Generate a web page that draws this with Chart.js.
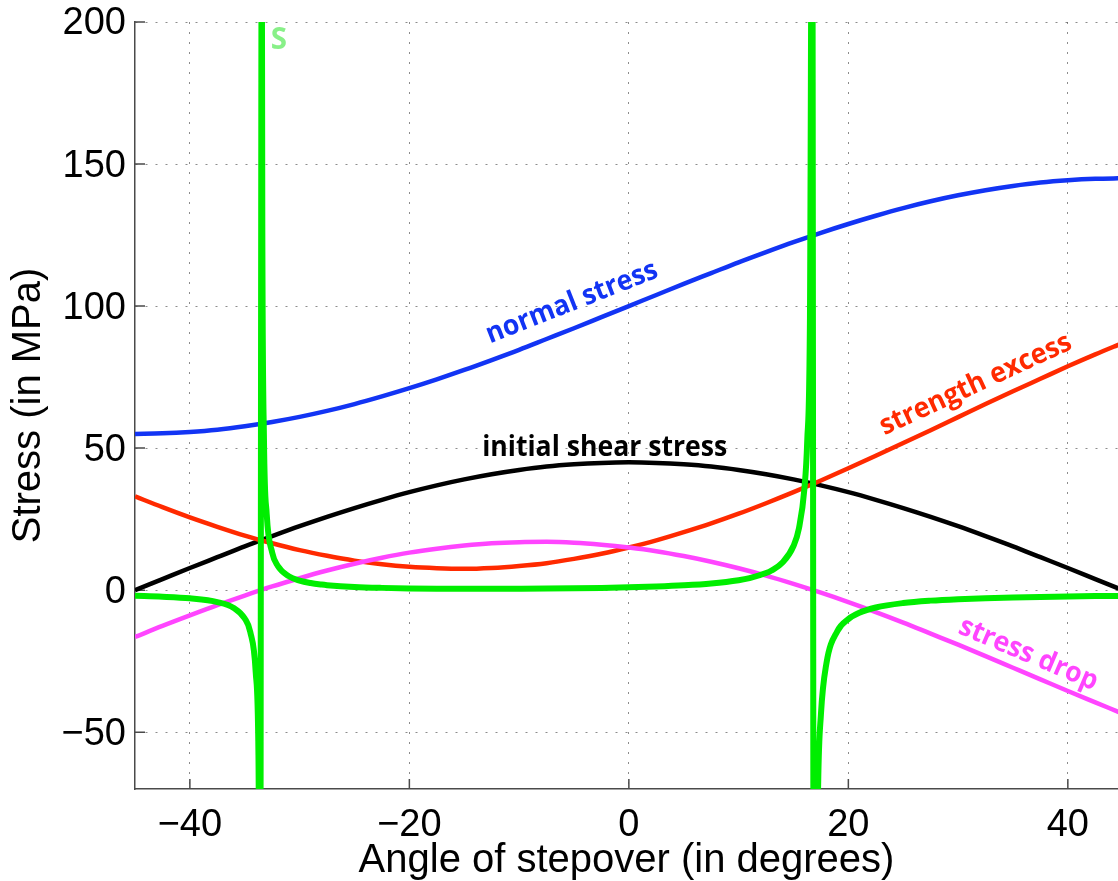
<!DOCTYPE html>
<html>
<head>
<meta charset="utf-8">
<script src="https://cdn.jsdelivr.net/npm/chart.js@4.4.1/dist/chart.umd.min.js"></script>
<style>
  html, body { margin: 0; padding: 0; background: #fff; overflow: hidden; }
  canvas { display: block; }
</style>
</head>
<body>
<canvas id="c" width="1118" height="881"></canvas>
<script>
// Stepover angle (degrees) for the smooth stress curves
const angles = [-45, -42.5, -40, -37.5, -35, -32.5, -30, -27.5, -25, -22.5, -20, -17.5, -15, -12.5, -10, -7.5, -5, -2.5,
  0, 2.5, 5, 7.5, 10, 12.5, 15, 17.5, 20, 22.5, 25, 27.5, 30, 32.5, 35, 37.5, 40, 42.5, 45];

// Stresses in MPa
const normalStress = [55.0, 55.2, 55.7, 56.5, 57.7, 59.2, 61.0, 63.1, 65.5, 68.2, 71.1, 74.2, 77.5, 81.0, 84.6, 88.4, 92.2, 96.1,
  100.0, 103.9, 107.8, 111.6, 115.4, 119.0, 122.5, 125.8, 128.9, 131.8, 134.5, 136.9, 139.0, 140.8, 142.3, 143.5, 144.3, 144.8, 145.0];
const shearStress = [0.0, 3.9, 7.8, 11.6, 15.4, 19.0, 22.5, 25.8, 28.9, 31.8, 34.5, 36.9, 39.0, 40.8, 42.3, 43.5, 44.3, 44.8,
  45.0, 44.8, 44.3, 43.5, 42.3, 40.8, 39.0, 36.9, 34.5, 31.8, 28.9, 25.8, 22.5, 19.0, 15.4, 11.6, 7.8, 3.9, 0.0];
const strengthExcess = [33.0, 29.2, 25.6, 22.3, 19.2, 16.5, 14.1, 12.1, 10.4, 9.1, 8.2, 7.7, 7.5, 7.8, 8.5, 9.5, 11.0, 12.8,
  15.0, 17.5, 20.4, 23.5, 26.9, 30.6, 34.5, 38.6, 42.9, 47.3, 51.8, 56.3, 60.9, 65.5, 70.0, 74.4, 78.8, 83.0, 87.0];
const stressDrop = [-16.5, -12.6, -8.9, -5.3, -1.9, 1.3, 4.2, 6.9, 9.3, 11.4, 13.2, 14.6, 15.7, 16.5, 16.9, 17.0, 16.7, 16.0,
  15.0, 13.7, 12.0, 10.0, 7.7, 5.1, 2.2, -0.9, -4.2, -7.7, -11.4, -15.3, -19.2, -23.2, -27.3, -31.4, -35.5, -39.5, -43.5];

// S ratio, sampled more finely around the two singularities
const sAngles = [-45, -42.5, -40, -37.5, -36, -35, -34.5, -34, -33.75, -33.6, -33.45, -33.4, -33.25, -33, -32.5, -32, -31, -30,
  -29, -28, -27.5, -25, -22.5, -20, -17.5, -15, -12.5, -10, -7.5, -5, -2.5, 0, 2.5, 5, 7.5, 10, 11, 12.5, 13, 14, 15, 15.5,
  16, 16.25, 16.5, 16.7, 16.9, 17, 17.25, 17.5, 18, 19, 20, 21, 22.5, 25, 27.5, 30, 32.5, 35, 37.5, 40, 42.5, 45];
const sRatio = [-2.00, -2.31, -2.88, -4.19, -6.27, -10.0, -14.7, -28.9, -58.1, -151, 240, 129, 53.4, 26.8, 13.2, 8.6, 4.94, 3.37,
  2.50, 1.96, 1.76, 1.12, 0.80, 0.62, 0.52, 0.48, 0.47, 0.50, 0.56, 0.66, 0.80, 1.00, 1.28, 1.70, 2.36, 3.51, 4.26, 6.03, 6.93,
  9.70, 15.55, 21.8, 35.9, 52.3, 95.5, 272, -324, -156, -68.1, -43.8, -25.8, -14.4, -10.2, -7.98, -6.12, -4.54, -3.69, -3.17,
  -2.82, -2.56, -2.37, -2.22, -2.10, -2.00];

// Axis ticks
const xTicks = [-40, -20, 0, 20, 40];
const yTicks = [-50, 0, 50, 100, 150, 200];

const BLUE = '#1234f4';
const RED = '#ff2a00';
const BLACK = '#000000';
const MAGENTA = '#ff45ff';
const GREEN = '#00ee00';
const AXIS = '#4a4a4a';

// Curve labels, anchored in data coordinates
const curveLabels = [
  { text: 'normal stress',        x: -5.2, y: 101.2, angle: -21.5, color: BLUE,    size: 28 },
  { text: 'initial shear stress', x: -2.2, y: 50.2,  angle: 0,     color: BLACK,   size: 28 },
  { text: 'strength excess',      x: 31.6, y: 72.4,  angle: -24.8, color: RED,     size: 28 },
  { text: 'stress drop',          x: 36.4, y: -22.6, angle: 23,    color: MAGENTA, size: 28 },
  { text: 'S',                    x: -31.9, y: 193.5, angle: 0,    color: '#88f088', size: 31 }
];

const fmt = v => (v < 0 ? '\u2212' + Math.abs(v) : String(v));
const pairs = (xs, ys) => xs.map((x, i) => ({ x: x, y: ys[i] }));

// Inward tick marks and the curve labels
const decorations = {
  id: 'decorations',
  beforeDatasetsDraw(chart) {
    const { ctx, chartArea: a, scales: { x, y } } = chart;
    ctx.save();
    ctx.strokeStyle = AXIS;
    ctx.lineWidth = 1.5;
    ctx.beginPath();
    xTicks.forEach(v => {
      const px = x.getPixelForValue(v);
      ctx.moveTo(px, a.bottom);
      ctx.lineTo(px, a.bottom - 10);
    });
    yTicks.forEach(v => {
      const py = y.getPixelForValue(v);
      ctx.moveTo(a.left, py);
      ctx.lineTo(a.left + 10, py);
    });
    ctx.stroke();
    ctx.restore();
  },
  afterDatasetsDraw(chart) {
    const { ctx, scales: { x, y } } = chart;
    ctx.save();
    ctx.textAlign = 'center';
    ctx.textBaseline = 'middle';
    curveLabels.forEach(l => {
      ctx.save();
      ctx.translate(x.getPixelForValue(l.x), y.getPixelForValue(l.y));
      ctx.rotate(l.angle * Math.PI / 180);
      ctx.scale(0.95, 1);
      ctx.font = 'bold ' + l.size + 'px "Open Sans"';
      ctx.fillStyle = l.color;
      ctx.fillText(l.text, 0, 0);
      ctx.restore();
    });
    ctx.restore();
  }
};

const line = (label, data, color, width, order) => ({
  label, data, borderColor: color, borderWidth: width, order,
  pointRadius: 0, fill: false, cubicInterpolationMode: 'monotone',
  borderJoinStyle: 'round', clip: 0
});

new Chart(document.getElementById('c'), {
  type: 'line',
  data: {
    datasets: [
      line('S', pairs(sAngles, sRatio), GREEN, 6, 0),
      line('stress drop', pairs(angles, stressDrop), MAGENTA, 4.5, 1),
      line('strength excess', pairs(angles, strengthExcess), RED, 4.5, 2),
      line('initial shear stress', pairs(angles, shearStress), BLACK, 4.5, 3),
      line('normal stress', pairs(angles, normalStress), BLUE, 4.5, 4)
    ]
  },
  options: {
    responsive: false,
    devicePixelRatio: 1,
    animation: false,
    layout: { padding: { top: 22, right: 0, bottom: 0, left: 0 } },
    plugins: { legend: { display: false }, tooltip: { enabled: false } },
    scales: {
      x: {
        type: 'linear',
        min: -45,
        max: 44.57,
        afterBuildTicks: s => { s.ticks = xTicks.map(v => ({ value: v })); },
        afterFit: s => { s.height = 92; s.paddingLeft = 0; s.paddingRight = 0; },
        ticks: {
          callback: fmt, autoSkip: false, maxRotation: 0, padding: 14, color: '#000',
          font: { family: '"Liberation Sans", Arial, sans-serif', size: 38 }
        },
        grid: { drawTicks: false, color: 'rgba(0,0,0,0.45)', lineWidth: 1 },
        border: { display: true, color: AXIS, width: 1.5, dash: [2, 8] },
        title: {
          display: true, text: 'Angle of stepover (in degrees)', color: '#000',
          font: { family: '"Liberation Sans", Arial, sans-serif', size: 40, lineHeight: 1 },
          padding: { top: 0, bottom: 0 }
        }
      },
      y: {
        type: 'linear',
        min: -70,
        max: 200,
        afterBuildTicks: s => { s.ticks = yTicks.map(v => ({ value: v })); },
        afterFit: s => { s.width = 135; s.paddingTop = 0; s.paddingBottom = 0; },
        ticks: {
          callback: fmt, padding: 9, labelOffset: 2, color: '#000',
          font: { family: '"Liberation Sans", Arial, sans-serif', size: 38 }
        },
        grid: { drawTicks: false, color: 'rgba(0,0,0,0.45)', lineWidth: 1 },
        border: { display: true, color: AXIS, width: 1.5, dash: [2, 8] },
        title: {
          display: true, text: 'Stress (in MPa)', color: '#000',
          font: { family: '"Liberation Sans", Arial, sans-serif', size: 40, lineHeight: 1 },
          padding: { top: 9, bottom: 0 }
        }
      }
    }
  },
  plugins: [decorations]
});
</script>
</body>
</html>
